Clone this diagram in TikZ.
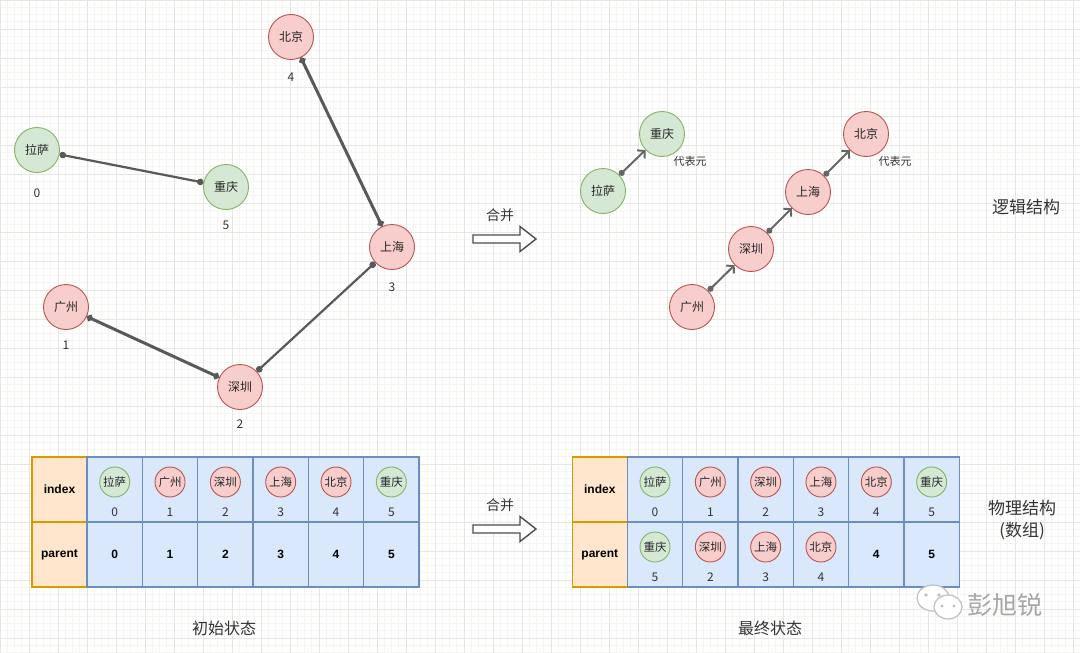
\documentclass[tikz,border=0pt]{standalone}
\usepackage{fontspec}
\setmainfont{Liberation Sans}
\newfontfamily\cjk{Noto Sans CJK SC}
\usetikzlibrary{arrows.meta,positioning}
\definecolor{gfill}{HTML}{D5E8D4}
\definecolor{gline}{HTML}{82B366}
\definecolor{rfill}{HTML}{F8CECC}
\definecolor{rline}{HTML}{B85450}
\definecolor{bfill}{HTML}{DAE8FC}
\definecolor{bline}{HTML}{6C8EBF}
\definecolor{ofill}{HTML}{FFE6CC}
\definecolor{oline}{HTML}{D79B00}
\definecolor{ink}{HTML}{333333}
\definecolor{edgegray}{HTML}{595959}
\definecolor{gridmin}{HTML}{F5F5F2}
\definecolor{gridmaj}{HTML}{E6E6E3}
\newcommand{\setfs}[1]{\fontsize{#1}{#1}\selectfont}
% block arrow "merge" centred on a coordinate
\newcommand{\mergearrow}[1]{%
  \draw[mergearr] (#1) ++(-31.5,-4) -- ++(47,0) -- ++(0,-8.5) -- ++(16,12.5)
    -- ++(-16,12.5) -- ++(0,-8.5) -- ++(-47,0) -- cycle;}
\tikzset{
  city/.style={circle, minimum size=45, inner sep=0pt, line width=0.9, font=\cjk\setfs{12}, text=black!85},
  gcity/.style={city, draw=gline, fill=gfill},
  rcity/.style={city, draw=rline, fill=rfill},
  tcity/.style={minimum size=30, font=\cjk\setfs{11.5}},
  idx/.style={font=\cjk\setfs{12}, text=ink, inner sep=0pt},
  rep/.style={font=\cjk\setfs{11}, text=ink, inner sep=0pt},
  link/.style={{Circle[length=6.5pt]}-{Circle[length=6.5pt]}, edgegray, line width=2.2},
  uplink/.style={{Circle[length=6pt]}-{Straight Barb[length=5pt,width=11pt]}, black!60, line width=2},
  bcell/.style={draw=bline, fill=bfill, line width=1.2, minimum width=55.3, minimum height=65, inner sep=0pt, font=\bfseries\setfs{12}},
  ocell/.style={bcell, draw=oline, fill=ofill, minimum width=55},
  mergearr/.style={draw=black!70, fill=white, line width=1.4, line join=miter},
  ttl/.style={font=\cjk\setfs{16}, text=ink},
  wm/.style={draw=black!25, fill=white, line width=1.2},
}
\begin{document}
\begin{tikzpicture}[x=1pt,y=-1pt]
\useasboundingbox (0,0) rectangle (1080,653);
% background grid
\foreach \g in {0,7.25,...,1080} \draw[gridmin, line width=0.6] (\g,0) -- (\g,653);
\foreach \g in {0,7.25,...,653} \draw[gridmin, line width=0.6] (0,\g) -- (1080,\g);
\foreach \g in {0.3,29.3,...,1080} \draw[gridmaj, line width=0.8] (\g,0) -- (\g,653);
\foreach \g in {0.3,29.3,...,653} \draw[gridmaj, line width=0.8] (0,\g) -- (1080,\g);

% initial forest
\node[rcity] (bj) at (291,37) {北京};
\node[gcity] (ls) at (37,150) {拉萨};
\node[gcity] (cq) at (226,187) {重庆};
\node[rcity] (sh) at (392,247) {上海};
\node[rcity] (gz) at (66,307) {广州};
\node[rcity] (sz) at (240,387) {深圳};
\node[idx] (bjn) at (291,77) {4};
\node[idx] (lsn) at (37,193) {0};
\node[idx] (cqn) at (226,225) {5};
\node[idx] (shn) at (392,287) {3};
\node[idx] (gzn) at (66,345) {1};
\node[idx] (szn) at (240,424) {2};
\draw[link] (ls) -- (cq);
\draw[link, line width=3] (bj) -- (sh);
\draw[link] (sh) -- (sz);
\draw[link, line width=3] (gz) -- (sz);

% merge arrows
\coordinate (mg1) at (504.5,239);
\mergearrow{mg1}
\node[font=\cjk\setfs{14}, text=ink] (mg1t) at (500,215) {合并};
\coordinate (mg2) at (504.5,529);
\mergearrow{mg2}
\node[font=\cjk\setfs{14}, text=ink] (mg2t) at (500,505) {合并};

% logical structure
\node[gcity] (cq2) at (662,134) {重庆};
\node[gcity] (ls2) at (603,191) {拉萨};
\node[rcity] (bj2) at (866,134) {北京};
\node[rcity] (sh2) at (808,192) {上海};
\node[rcity] (sz2) at (751,249) {深圳};
\node[rcity] (gz2) at (692,307) {广州};
\node[rep] (rep1) at (690,161) {代表元};
\node[rep] (rep2) at (895,161) {代表元};
\draw[uplink] (ls2) -- (cq2);
\draw[uplink] (gz2) -- (sz2);
\draw[uplink] (sz2) -- (sh2);
\draw[uplink] (sh2) -- (bj2);
\node[font=\cjk\setfs{17}, text=ink] (logic) at (1026,207) {逻辑结构};

% initial array
\node[ocell] (ihA) at (59.5,489.5) {index};
\node[ocell] (phA) at (59.5,554.5) {parent};
\foreach \nm/\sty [count=\c from 0] in {拉萨/gcity,广州/rcity,深圳/rcity,上海/rcity,北京/rcity,重庆/gcity}{
  \node[bcell] (iA\c) at ({114.7+55.33*\c},489.5) {};
  \node[bcell] (pA\c) at ({114.7+55.33*\c},554.5) {\c};
  \node[\sty, tcity] (tA\c) at ({114.7+55.33*\c},482) {\nm};
  \node[idx] (nA\c) at ({114.7+55.33*\c},512) {\c};
}
\node[ttl] (initt) at (224,628) {初始状态};

% final array
\node[ocell] (ihB) at (599.8,489.5) {index};
\node[ocell] (phB) at (599.8,554.5) {parent};
\foreach \nm/\sty [count=\c from 0] in {拉萨/gcity,广州/rcity,深圳/rcity,上海/rcity,北京/rcity,重庆/gcity}{
  \node[bcell] (iB\c) at ({655+55.33*\c},489.5) {};
  \node[bcell] (pB\c) at ({655+55.33*\c},554.5) {};
  \node[\sty, tcity] (tB\c) at ({655+55.33*\c},482) {\nm};
  \node[idx] (nB\c) at ({655+55.33*\c},512) {\c};
}
\foreach \nm/\sty/\v [count=\c from 0] in {重庆/gcity/5,深圳/rcity/2,上海/rcity/3,北京/rcity/4}{
  \node[\sty, tcity] (qB\c) at ({655+55.33*\c},547) {\nm};
  \node[idx] (vB\c) at ({655+55.33*\c},577) {\v};
}
\node[font=\bfseries\setfs{12}] (vB4) at (876.3,554.5) {4};
\node[font=\bfseries\setfs{12}] (vB5) at (931.7,554.5) {5};
\node[ttl] (finalt) at (770,628) {最终状态};
\node[font=\cjk\setfs{17}, text=ink, align=center] (phys) at (1022,520) {物理结构\\[5pt](数组)};

% watermark
\draw[wm] (933,598) ellipse [x radius=16, y radius=13];
\fill[black!25] (926,595) circle (1.8) (939,595) circle (1.8);
\draw[wm] (948,607) ellipse [x radius=14, y radius=12];
\fill[black!25] (942,606) circle (1.7) (954,606) circle (1.7);
\node[font=\cjk\setfs{25}, text=black!35] (wmt) at (1005,605) {彭旭锐};
\end{tikzpicture}
\end{document}
